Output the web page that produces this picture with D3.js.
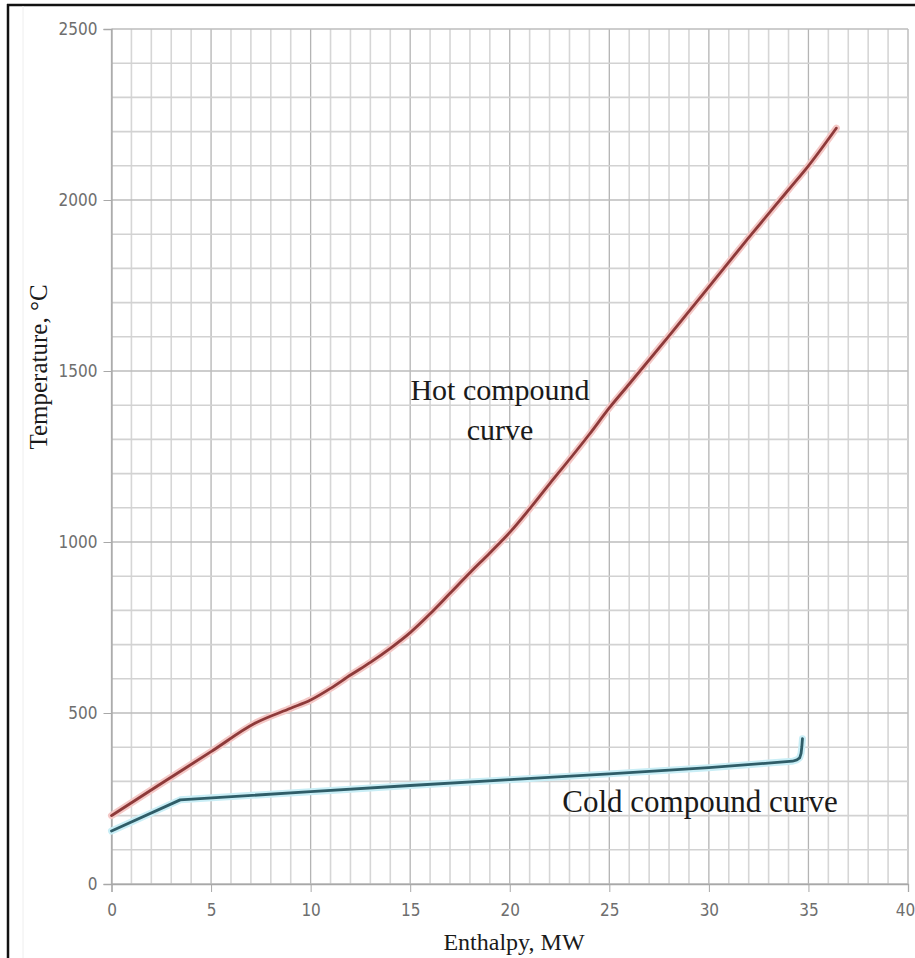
<!DOCTYPE html>
<html>
<head>
<meta charset="utf-8">
<script src="https://cdn.jsdelivr.net/npm/d3@7"></script>
<style>
  body{margin:0;background:#fff;}
  svg{display:block;}
  .tick-lbl{font-family:"Liberation Sans Narrow","DejaVu Sans Condensed",sans-serif;fill:#6e6e6e;}
  .serif{font-family:"Liberation Serif","Times New Roman",serif;fill:#1a1a1a;}
</style>
</head>
<body>
<div id="chart"></div>
<script>
// Enthalpy (MW) vs temperature (°C)
const hotH = [0, 2.5, 5, 7.2, 9, 10, 11, 12, 13, 14, 15, 16, 17, 18, 19, 20, 22, 24, 25, 26, 28, 30, 32, 34, 35, 36.4];
const hotT = [200, 294, 387, 470, 514, 538, 572, 611, 648, 689, 735, 790, 850, 910, 968, 1028, 1170, 1315, 1392, 1462, 1603, 1746, 1890, 2030, 2100, 2210];

const coldH = [0, 3.45, 10, 15, 20, 25, 30, 34.2, 34.42, 34.56, 34.63, 34.67, 34.7];
const coldT = [155, 246, 270, 288, 305, 322, 340, 359, 363, 369, 382, 402, 425];

const xTicks = [0, 5, 10, 15, 20, 25, 30, 35, 40];
const yTicks = [0, 500, 1000, 1500, 2000, 2500];

const W = 915, H = 958;
const svg = d3.select('#chart').append('svg').attr('width', W).attr('height', H);

const x = d3.scaleLinear().domain([0, 40]).range([111.5, 908]);
const y = d3.scaleLinear().domain([0, 2500]).range([884, 29]);

// frame (left + top edges show in the picture)
svg.append('line').attr('x1', 8).attr('x2', 8).attr('y1', 4).attr('y2', H).attr('stroke', '#111').attr('stroke-width', 2.5);
svg.append('line').attr('x1', 7).attr('x2', W).attr('y1', 5).attr('y2', 5).attr('stroke', '#111').attr('stroke-width', 2.5);
svg.append('line').attr('x1', 23).attr('x2', 23).attr('y1', 6).attr('y2', H).attr('stroke', '#eee').attr('stroke-width', 1);

// grid
const grid = svg.append('g');
grid.selectAll('.vx').data(d3.range(0, 41, 1)).enter().append('line')
  .attr('x1', d => x(d)).attr('x2', d => x(d))
  .attr('y1', y(0)).attr('y2', y(2500))
  .attr('stroke', d => d % 5 === 0 ? '#b4b4b4' : '#d6d6d6')
  .attr('stroke-width', d => d % 5 === 0 ? 1.3 : 1.6);
grid.selectAll('.hy').data(d3.range(0, 2501, 100)).enter().append('line')
  .attr('x1', x(0)).attr('x2', x(40))
  .attr('y1', d => y(d)).attr('y2', d => y(d))
  .attr('stroke', d => d % 500 === 0 ? '#bcbcbc' : '#d2d2d2')
  .attr('stroke-width', 1.6);

// axes
const xAxis = svg.append('g').attr('transform', `translate(0,${y(0)})`)
  .call(d3.axisBottom(x).tickValues(xTicks).tickFormat(d3.format('d')).tickSize(8).tickPadding(12));
const yAxis = svg.append('g').attr('transform', `translate(${x(0)},0)`)
  .call(d3.axisLeft(y).tickValues(yTicks).tickFormat(d3.format('d')).tickSize(8).tickPadding(6));
[xAxis, yAxis].forEach(a => {
  a.select('.domain').attr('stroke', '#a8a8a8').attr('stroke-width', 1.3);
  a.selectAll('.tick line').attr('stroke', '#a8a8a8');
  a.selectAll('.tick text').attr('class', 'tick-lbl').attr('font-size', 17);
});
yAxis.selectAll('.tick text').attr('dy', '0.32em');
// last x label sits on the picture's right edge
xAxis.selectAll('.tick text').filter(d => d === 40).attr('dx', -3);

// curves
const hot = hotH.map((h, i) => [h, hotT[i]]);
const cold = coldH.map((h, i) => [h, coldT[i]]);
const lineHot = d3.line().x(d => x(d[0])).y(d => y(d[1])).curve(d3.curveMonotoneX);
const lineCold = d3.line().x(d => x(d[0])).y(d => y(d[1]));

const drawCurve = (data, gen, halo, col) => {
  svg.append('path').datum(data).attr('d', gen).attr('fill', 'none')
    .attr('stroke', halo).attr('stroke-width', 7).attr('stroke-linejoin', 'round').attr('stroke-linecap', 'round');
  svg.append('path').datum(data).attr('d', gen).attr('fill', 'none')
    .attr('stroke', col).attr('stroke-width', 2.8).attr('stroke-linejoin', 'round').attr('stroke-linecap', 'round');
};
drawCurve(hot, lineHot, '#f4c8c6', '#8e3a3a');
drawCurve(cold, lineCold, '#c9eef6', '#2f5d68');

// labels
svg.append('text').attr('class', 'serif').attr('font-size', 30)
  .attr('x', 500).attr('y', 400).attr('text-anchor', 'middle').text('Hot compound');
svg.append('text').attr('class', 'serif').attr('font-size', 30)
  .attr('x', 500).attr('y', 440).attr('text-anchor', 'middle').text('curve');
svg.append('text').attr('class', 'serif').attr('font-size', 31)
  .attr('x', 700).attr('y', 812).attr('text-anchor', 'middle').text('Cold compound curve');

svg.append('text').attr('class', 'serif').attr('font-size', 24)
  .attr('x', 514).attr('y', 950).attr('text-anchor', 'middle').text('Enthalpy, MW');
svg.append('text').attr('class', 'serif').attr('font-size', 25)
  .attr('transform', 'translate(47,367) rotate(-90)').attr('text-anchor', 'middle').text('Temperature, °C');
</script>
</body>
</html>
